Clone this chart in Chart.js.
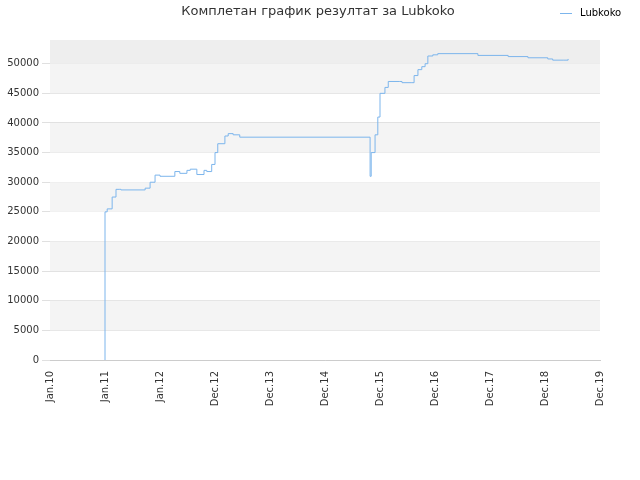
<!DOCTYPE html>
<html><head><meta charset="utf-8">
<script src="https://cdn.jsdelivr.net/npm/chart.js@4"></script>
<style>body{margin:0;background:#fff}#w{width:640px;height:480px}</style>
</head><body><div id="w"><canvas id="c" width="640" height="480"></canvas></div>
<script>
const tickLabels=["Jan.10","Jan.11","Jan.12","Dec.12","Dec.13","Dec.14","Dec.15","Dec.16","Dec.17","Dec.18","Dec.19"];
const yTicks=[0,5000,10000,15000,20000,25000,30000,35000,40000,45000,50000];
const xs=[1,1,1.04,1.13,1.2,1.27,1.29,1.73,1.82,1.91,2,2.27,2.36,2.49,2.55,2.67,2.8,2.85,2.94,3,3.05,3.18,3.24,3.33,3.45,5.82,5.84,5.91,5.96,6,6.09,6.15,6.36,6.4,6.58,6.62,6.69,6.76,6.82,6.87,6.96,7.05,7.78,8.33,8.69,9.05,9.14,9.33,9.42];
const ys=[0,25000,25500,27500,28800,28800,28700,29000,30000,31200,31000,31800,31500,32000,32200,31300,32000,31800,33000,35000,36500,37800,38200,38000,37600,31000,35000,38000,41000,45000,46000,47000,47000,46800,46800,48000,49000,49500,50000,51300,51500,51700,51400,51200,51000,50800,50600,50600,50800];
const seriesName="Lubkoko";
const titleText='Комплетан график резултат за Lubkoko';
const deco={id:'deco',beforeDatasetsDraw(ch){const {ctx,chartArea:a,scales:{y}}=ch;ctx.save();
for(let v=0;v<54000;v+=5000){const i=v/5000;let col=null;if(v>=50000)col='#eeeeee';else if(i%2===1)col='#f4f4f4';
if(col){ctx.fillStyle=col;const t=y.getPixelForValue(Math.min(v+5000,54000)),b=y.getPixelForValue(v);ctx.fillRect(a.left,t,a.right-a.left,b-t);}}
ctx.restore();},
afterDraw(ch){const ctx=ch.ctx;ctx.save();ctx.fillStyle='#333';ctx.font='13px "DejaVu Sans"';ctx.textAlign='center';ctx.textBaseline='middle';ctx.fillText(titleText,318,12);
ctx.strokeStyle='#7cb5ec';ctx.lineWidth=1;ctx.beginPath();ctx.moveTo(560,13.5);ctx.lineTo(572,13.5);ctx.stroke();
ctx.fillStyle='#000';ctx.font='10px "DejaVu Sans"';ctx.textAlign='left';ctx.fillText(seriesName,580,13);ctx.restore();}};
new Chart(document.getElementById('c'),{type:'line',
data:{datasets:[{label:seriesName,data:xs.map((x,i)=>({x,y:ys[i]})),borderColor:'#7cb5ec',borderWidth:1,pointRadius:0,stepped:'before'}]},
options:{responsive:false,animation:false,
layout:{padding:{left:0,right:40,top:40,bottom:70}},
plugins:{legend:{display:false},tooltip:{enabled:false}},
scales:{x:{type:'linear',min:0,max:10,afterBuildTicks:s=>{s.ticks=tickLabels.map((_,i)=>({value:i}));},afterFit:s=>{s.height=50;},
ticks:{autoSkip:false,maxRotation:90,minRotation:90,color:'#333',font:{family:'DejaVu Sans',size:10},callback:v=>tickLabels[v]},grid:{display:false},border:{color:'#ccc'}},
y:{min:0,max:54000,afterBuildTicks:s=>{s.ticks=yTicks.map(v=>({value:v}));},afterFit:s=>{s.width=50;},
ticks:{color:'#333',font:{family:'DejaVu Sans',size:10},callback:v=>String(v)},grid:{color:'#e0e0e0'},border:{display:false}}}},
plugins:[deco]});
</script></body></html>
